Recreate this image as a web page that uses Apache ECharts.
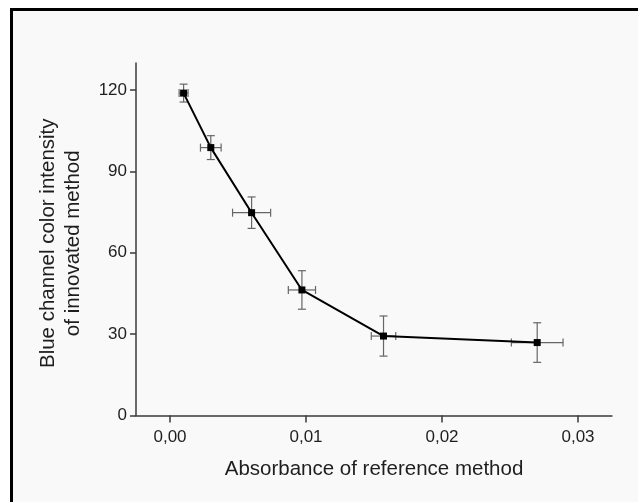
<!DOCTYPE html>
<html>
<head>
<meta charset="utf-8">
<script src="https://cdn.jsdelivr.net/npm/echarts@6/dist/echarts.min.js"></script>
<style>
html,body{margin:0;padding:0;background:#ffffff;}
#chart{width:638px;height:502px;}
</style>
</head>
<body>
<div id="chart"></div>
<script>
// Data
var absorbance = [0.001, 0.003, 0.006, 0.0097, 0.0157, 0.027];
var blueIntensity = [118.9, 98.8, 74.8, 46.3, 29.3, 26.9];
var absorbanceErr = [0.00033, 0.00076, 0.0014, 0.001, 0.0009, 0.0019];
var intensityErr = [3.3, 4.4, 5.8, 7.1, 7.4, 7.3];
var xTicks = [0, 0.01, 0.02, 0.03];
var yTicks = [0, 30, 60, 90, 120];
var xTitle = 'Absorbance of reference method';
var yTitle = 'Blue channel color intensity\nof innovated method';

var points = absorbance.map(function (x, i) { return [x, blueIntensity[i]]; });
var errData = absorbance.map(function (x, i) {
  return [x, blueIntensity[i], absorbanceErr[i], intensityErr[i]];
});

var chart = echarts.init(document.getElementById('chart'), null, {renderer: 'canvas'});
var axisColor = '#3a3a3a';
var textColor = '#1e1e1e';
var font = 'Liberation Sans, Arial, sans-serif';

function renderErr(params, api) {
  var x = api.value(0), y = api.value(1), ex = api.value(2), ey = api.value(3);
  var top = api.coord([x, y + ey]);
  var bot = api.coord([x, y - ey]);
  var lft = api.coord([x - ex, y]);
  var rgt = api.coord([x + ex, y]);
  var cap = 4;
  var st = {stroke: '#666666', lineWidth: 1.2};
  return {
    type: 'group',
    children: [
      {type: 'line', shape: {x1: top[0], y1: top[1], x2: bot[0], y2: bot[1]}, style: st},
      {type: 'line', shape: {x1: top[0] - cap, y1: top[1], x2: top[0] + cap, y2: top[1]}, style: st},
      {type: 'line', shape: {x1: bot[0] - cap, y1: bot[1], x2: bot[0] + cap, y2: bot[1]}, style: st},
      {type: 'line', shape: {x1: lft[0], y1: lft[1], x2: rgt[0], y2: rgt[1]}, style: st},
      {type: 'line', shape: {x1: lft[0], y1: lft[1] - cap, x2: lft[0], y2: lft[1] + cap}, style: st},
      {type: 'line', shape: {x1: rgt[0], y1: rgt[1] - cap, x2: rgt[0], y2: rgt[1] + cap}, style: st}
    ]
  };
}

chart.setOption({
  backgroundColor: '#ffffff',
  animation: false,
  graphic: [
    {type: 'rect', z: -10, shape: {x: 10, y: 8, width: 628, height: 494}, style: {fill: '#f9f9f9'}},
    {type: 'line', z: 10, shape: {x1: 11.5, y1: 9.5, x2: 638, y2: 9.5}, style: {stroke: '#000', lineWidth: 3}},
    {type: 'line', z: 10, shape: {x1: 11.5, y1: 8, x2: 11.5, y2: 502}, style: {stroke: '#000', lineWidth: 3}}
  ],
  grid: {left: 136, right: 26, top: 63, bottom: 86.5, containLabel: false},
  xAxis: {
    type: 'value',
    min: -0.0025,
    max: 0.0325,
    name: xTitle,
    nameLocation: 'middle',
    nameGap: 43,
    nameTextStyle: {fontFamily: font, fontSize: 20.5, color: textColor},
    axisLine: {show: true, onZero: false, lineStyle: {color: axisColor, width: 1.5}},
    axisTick: {show: true, length: 7, inside: false, customValues: xTicks, lineStyle: {color: axisColor, width: 1.5}},
    axisLabel: {
      customValues: xTicks, fontFamily: font, fontSize: 17, color: textColor, margin: 13,
      formatter: function (v) { return v.toFixed(2).replace('.', ','); }
    },
    splitLine: {show: false}
  },
  yAxis: {
    type: 'value',
    min: 0,
    max: 130,
    name: yTitle,
    nameLocation: 'middle',
    nameRotate: 90,
    nameGap: 50,
    nameTextStyle: {fontFamily: font, fontSize: 20.5, color: textColor, lineHeight: 25, align: 'center', padding: [0, 8, 0, 0]},
    axisLine: {show: true, onZero: false, lineStyle: {color: axisColor, width: 1.5}},
    axisTick: {show: true, length: 6, customValues: yTicks, lineStyle: {color: axisColor, width: 1.5}},
    axisLabel: {customValues: yTicks, fontFamily: font, fontSize: 17, color: textColor, margin: 9},
    splitLine: {show: false}
  },
  series: [
    {
      type: 'custom',
      renderItem: renderErr,
      data: errData,
      z: 1,
      encode: {x: 0, y: 1}
    },
    {
      type: 'line',
      data: points,
      z: 5,
      symbol: 'rect',
      symbolSize: 7,
      lineStyle: {color: '#000000', width: 2},
      itemStyle: {color: '#000000'}
    }
  ]
});
</script>
</body>
</html>
